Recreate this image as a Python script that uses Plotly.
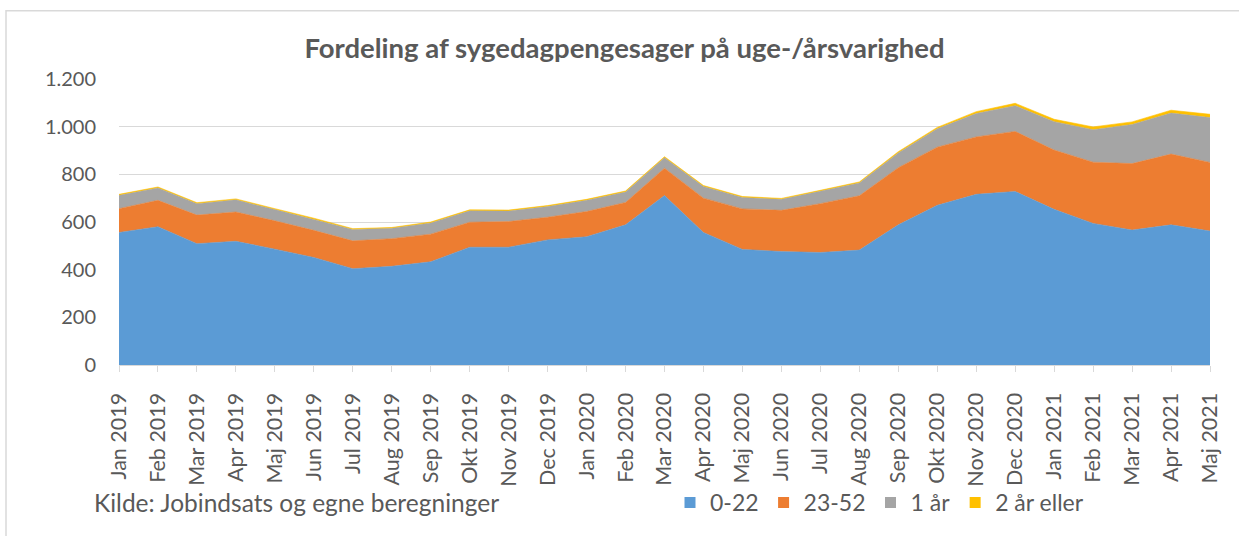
import plotly.graph_objects as go

# Monthly sickness-benefit cases split by duration
months = [
    "Jan 2019", "Feb 2019", "Mar 2019", "Apr 2019", "Maj 2019", "Jun 2019",
    "Jul 2019", "Aug 2019", "Sep 2019", "Okt 2019", "Nov 2019", "Dec 2019",
    "Jan 2020", "Feb 2020", "Mar 2020", "Apr 2020", "Maj 2020", "Jun 2020",
    "Jul 2020", "Aug 2020", "Sep 2020", "Okt 2020", "Nov 2020", "Dec 2020",
    "Jan 2021", "Feb 2021", "Mar 2021", "Apr 2021", "Maj 2021",
]
weeks_0_22 = [556, 580, 509, 519, 486, 451, 404, 414, 433, 494, 494, 525,
              538, 588, 711, 556, 485, 476, 472, 482, 588, 670, 716, 728,
              653, 594, 566, 588, 562]
weeks_23_52 = [100, 111, 120, 123, 119, 114, 117, 116, 116, 105, 108, 95,
               106, 94, 115, 144, 170, 173, 205, 228, 240, 244, 241, 252,
               249, 257, 279, 297, 288]
one_year = [56, 52, 48, 51, 47, 47, 48, 44, 47, 48, 44, 45,
            47, 44, 44, 49, 48, 46, 52, 54, 62, 77, 98, 108,
            119, 136, 164, 172, 188]
two_years_plus = [4, 4, 4, 4, 4, 4, 3, 3, 4, 4, 4, 4,
                  4, 4, 4, 4, 4, 4, 4, 4, 5, 6, 8, 10,
                  10, 12, 11, 12, 14]

series_names = ["0-22", "23-52", "1 år", "2 år eller"]
series_values = [weeks_0_22, weeks_23_52, one_year, two_years_plus]
colors = ["#5B9BD5", "#ED7D31", "#A5A5A5", "#FFC000"]

FONT = "Lato"
TEXT_COLOR = "#595959"
GRID = "#D9D9D9"

fig = go.Figure()

for name, vals, col in zip(series_names, series_values, colors):
    fig.add_trace(go.Scatter(
        x=months, y=vals, name=name, mode="lines",
        stackgroup="one", line=dict(color=col, width=0.6),
        fillcolor=col, showlegend=False, legendgroup=name,
    ))

# Square legend keys
for name, col in zip(series_names, colors):
    fig.add_trace(go.Scatter(
        x=[None], y=[None], name=name, mode="markers",
        marker=dict(symbol="square", size=11, color=col),
        legendgroup=name, showlegend=True,
    ))

# Plot area geometry in pixels
W, H = 1239, 536
L, R, T, B = 119, 1210, 79, 368
pw, ph = R - L, B - T


def px_x(x):
    return (x - L) / pw


def px_y(y):
    return (B - y) / ph


fig.update_layout(
    width=W, height=H,
    margin=dict(l=L, r=W - R, t=T, b=H - B, pad=0),
    paper_bgcolor="white", plot_bgcolor="white",
    separators=",.",
    font=dict(family=FONT, color=TEXT_COLOR, size=22),
    title=dict(
        text="<b>Fordeling af sygedagpengesager på uge-/årsvarighed</b>",
        x=624.5 / W, xanchor="center", xref="container",
        y=1 - 48 / H, yanchor="middle", yref="container",
        font=dict(family=FONT, size=27.5, color=TEXT_COLOR),
    ),
    showlegend=True,
    legend=dict(
        orientation="h", x=px_x(670), xanchor="left",
        y=px_y(507), yanchor="middle",
        font=dict(family=FONT, size=23, color=TEXT_COLOR),
        bgcolor="rgba(0,0,0,0)", itemwidth=30, tracegroupgap=0,
    ),
    xaxis=dict(
        type="category", range=[0, len(months) - 1],
        tickangle=-90, showgrid=False,
        showline=True, linecolor=GRID, linewidth=1.3,
        ticks="outside", ticklen=6, tickcolor=GRID, tickwidth=1.3,
        tickfont=dict(family=FONT, size=21.5, color=TEXT_COLOR),
        ticklabelstandoff=12,
        fixedrange=True,
    ),
    yaxis=dict(
        range=[0, 1200], dtick=200, tickformat=",d",
        showgrid=True, gridcolor=GRID, gridwidth=1.3,
        zeroline=False, showline=False, ticks="",
        tickfont=dict(family=FONT, size=20, color=TEXT_COLOR),
        ticklabelstandoff=22,
        fixedrange=True,
    ),
    shapes=[
        # chart frame
        dict(type="rect", xref="paper", yref="paper",
             x0=px_x(6), x1=px_x(1260), y0=px_y(560), y1=px_y(10),
             line=dict(color=GRID, width=1.5), fillcolor="rgba(0,0,0,0)",
             layer="below"),
    ],
    annotations=[
        dict(text="Kilde: Jobindsats og egne beregninger",
             xref="paper", yref="paper", x=px_x(92), y=px_y(507),
             xanchor="left", yanchor="middle", showarrow=False,
             font=dict(family=FONT, size=24.5, color=TEXT_COLOR)),
    ],
)

fig.write_html("out.html")
